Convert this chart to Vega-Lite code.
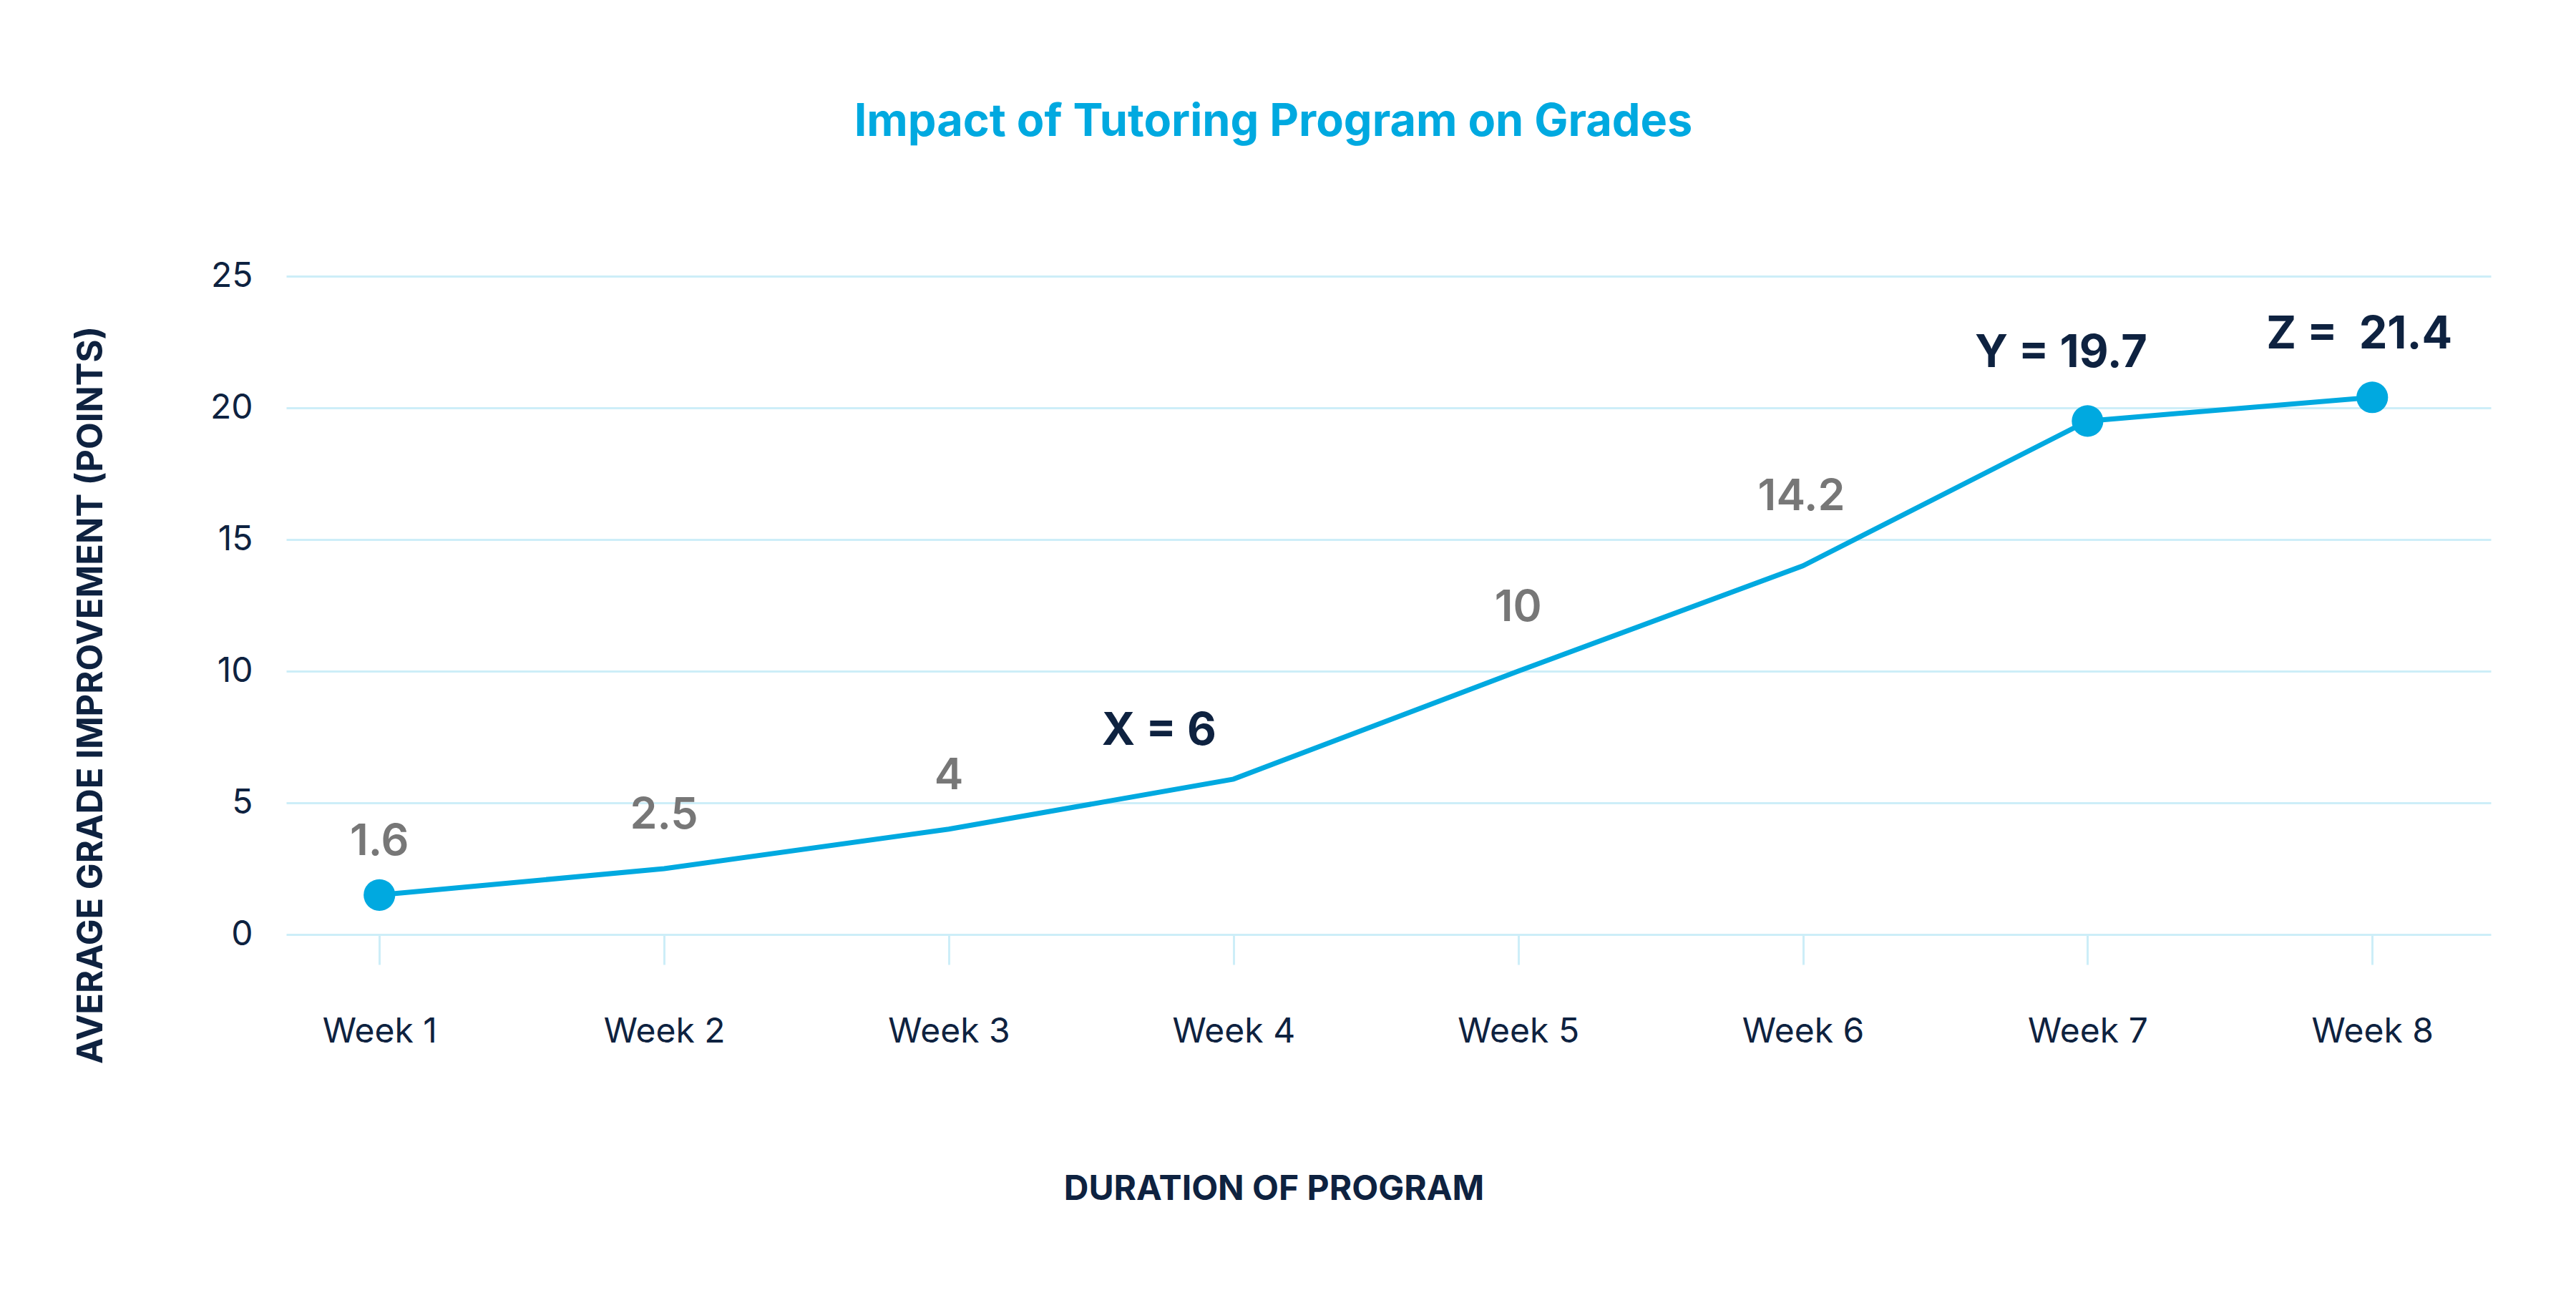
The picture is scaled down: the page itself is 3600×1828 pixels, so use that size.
{
  "$schema": "https://vega.github.io/schema/vega-lite/v6.json",
  "width": 3081,
  "height": 920,
  "autosize": {"type": "none"},
  "padding": {"left": 400, "top": 386, "right": 119, "bottom": 522},
  "background": "#ffffff",
  "config": {
    "view": {"stroke": null},
    "font": "Inter"
  },
  "title": {
    "text": "Impact of Tutoring Program on Grades",
    "anchor": "middle",
    "frame": "group",
    "dx": -161,
    "baseline": "alphabetic",
    "offset": 109,
    "font": "Inter",
    "fontSize": 63,
    "fontWeight": 700,
    "color": "#00A9E0"
  },
  "data": {
    "values": [
      {"week": "Week 1", "value": 1.5, "label": "1.6"},
      {"week": "Week 2", "value": 2.5, "label": "2.5"},
      {"week": "Week 3", "value": 4.0, "label": "4"},
      {"week": "Week 4", "value": 5.9, "label": "X = 6"},
      {"week": "Week 5", "value": 10.0, "label": "10"},
      {"week": "Week 6", "value": 14.0, "label": "14.2"},
      {"week": "Week 7", "value": 19.5, "label": "Y = 19.7"},
      {"week": "Week 8", "value": 20.4, "label": "Z = \u00a021.4"}
    ]
  },
  "encoding": {
    "x": {
      "field": "week",
      "type": "ordinal",
      "sort": null,
      "scale": {"type": "point", "padding": 0.372, "align": 0.44},
      "axis": {
        "title": "DURATION OF PROGRAM",
        "titleFont": "Inter",
        "titleFontSize": 48,
        "titleFontWeight": 700,
        "titleColor": "#0E2240",
        "titleX": 1380,
        "titleY": 370,
        "titleAlign": "center",
        "titleBaseline": "alphabetic",
        "labelAngle": 0,
        "labelFont": "Inter",
        "labelFontSize": 48,
        "labelColor": "#0E2240",
        "labelBaseline": "alphabetic",
        "labelPadding": 108,
        "domain": false,
        "ticks": true,
        "tickSize": 42,
        "tickWidth": 3,
        "tickColor": "#CDEEF8",
        "grid": false
      }
    },
    "y": {
      "field": "value",
      "type": "quantitative",
      "scale": {"domain": [0, 25], "nice": false},
      "axis": {
        "title": "AVERAGE GRADE IMPROVEMENT (POINTS)",
        "titleFont": "Inter",
        "titleFontSize": 49,
        "titleFontWeight": 700,
        "titleColor": "#0E2240",
        "titleAngle": -90,
        "titleX": -273,
        "titleY": 585,
        "titleAlign": "center",
        "titleBaseline": "middle",
        "values": [0, 5, 10, 15, 20, 25],
        "labelFont": "Inter",
        "labelFontSize": 48,
        "labelColor": "#0E2240",
        "labelPadding": 47,
        "domain": false,
        "ticks": false,
        "grid": true,
        "gridColor": "#CDEEF8",
        "gridWidth": 3
      }
    }
  },
  "layer": [
    {
      "mark": {"type": "line", "color": "#00A9E0", "strokeWidth": 7}
    },
    {
      "transform": [{"filter": "indexof(['Week 1','Week 7','Week 8'], datum.week) >= 0"}],
      "mark": {"type": "circle", "color": "#00A9E0", "opacity": 1, "size": 1950}
    },
    {
      "transform": [{"filter": "indexof(['1.6','2.5','4'], datum.label) >= 0"}],
      "mark": {"type": "text", "font": "Inter", "fontSize": 61, "fontWeight": 600, "color": "#777777", "baseline": "alphabetic", "align": "center", "dy": -56},
      "encoding": {"text": {"field": "label"}}
    },
    {
      "transform": [{"filter": "datum.label == '10'"}],
      "mark": {"type": "text", "font": "Inter", "fontSize": 61, "fontWeight": 600, "color": "#777777", "baseline": "alphabetic", "align": "center", "dy": -70},
      "encoding": {"text": {"field": "label"}}
    },
    {
      "transform": [{"filter": "datum.label == '14.2'"}],
      "mark": {"type": "text", "font": "Inter", "fontSize": 61, "fontWeight": 600, "color": "#777777", "baseline": "alphabetic", "align": "center", "dy": -78, "dx": -2},
      "encoding": {"text": {"field": "label"}}
    },
    {
      "transform": [{"filter": "datum.week == 'Week 4'"}],
      "mark": {"type": "text", "font": "Inter", "fontSize": 63, "fontWeight": 700, "color": "#0E2240", "baseline": "alphabetic", "align": "center", "dy": -48, "dx": -104},
      "encoding": {"text": {"field": "label"}}
    },
    {
      "transform": [{"filter": "datum.week == 'Week 7'"}],
      "mark": {"type": "text", "font": "Inter", "fontSize": 63, "fontWeight": 700, "color": "#0E2240", "baseline": "alphabetic", "align": "center", "dy": -75, "dx": -37},
      "encoding": {"text": {"field": "label"}}
    },
    {
      "transform": [{"filter": "datum.week == 'Week 8'"}],
      "mark": {"type": "text", "font": "Inter", "fontSize": 63, "fontWeight": 700, "color": "#0E2240", "baseline": "alphabetic", "align": "center", "dy": -68, "dx": -18},
      "encoding": {"text": {"field": "label"}}
    }
  ]
}
